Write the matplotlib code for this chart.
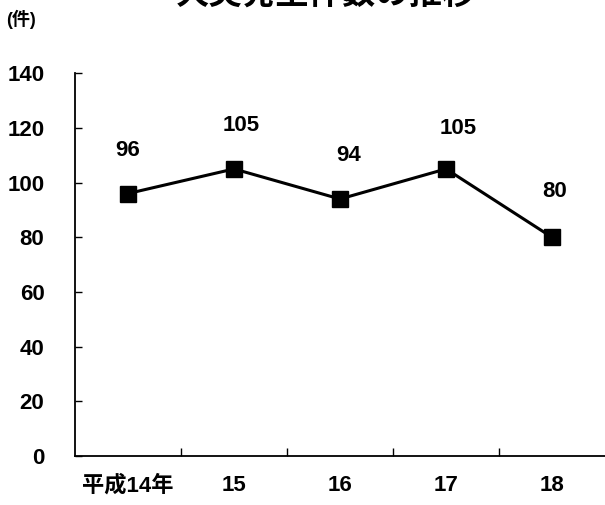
import matplotlib.pyplot as plt

# ---------------- DATA ----------------
years = ['平成14年', '15', '16', '17', '18']
fires = [96, 105, 94, 105, 80]
# label offsets (points) for the value labels above the markers
label_dx = [0, 5, 6, 9, 2]
label_dy = [31, 31, 31, 29, 33]

plt.rcParams['font.family'] = ['Liberation Sans', 'Noto Sans CJK JP', 'DejaVu Sans']
plt.rcParams['font.weight'] = 'bold'

fig = plt.figure(figsize=(6.05, 5.05), dpi=100)
ax = fig.add_axes([0.124, 0.097, 0.876, 0.758])

x = list(range(len(years)))
ax.plot(x, fires, color='black', linewidth=2.2, marker='s', markersize=11,
        markerfacecolor='black', markeredgecolor='black')

for i, v in enumerate(fires):
    ax.annotate(str(v), (x[i], v), xytext=(label_dx[i], label_dy[i]),
                textcoords='offset points', ha='center', va='center',
                fontsize=16, fontweight='bold')

ax.set_xlim(-0.5, len(years) - 0.5)
ax.set_ylim(0, 140)
ax.set_yticks(range(0, 141, 20))
ax.tick_params(axis='y', direction='in', length=5, width=1, labelsize=16, pad=22)

# category labels centred, ticks at the boundaries
ax.set_xticks(x)
ax.set_xticklabels(years, fontsize=16, fontweight='bold')
ax.tick_params(axis='x', which='major', length=0, pad=14)
ax.set_xticks([i + 0.5 for i in x[:-1]], minor=True)
ax.tick_params(axis='x', which='minor', direction='in', length=6, width=1)

for s in ['top', 'right']:
    ax.spines[s].set_visible(False)
for s in ['left', 'bottom']:
    ax.spines[s].set_linewidth(1.3)

# title sits partly above the page edge as in the scan
fig.text(0.538, 1.01, '火災発生件数の推移', ha='center', va='center',
         fontsize=24, fontweight='bold')
fig.text(0.01, 0.962, '(件)', ha='left', va='center', fontsize=13, fontweight='bold')

plt.savefig('out.png', dpi=100)
